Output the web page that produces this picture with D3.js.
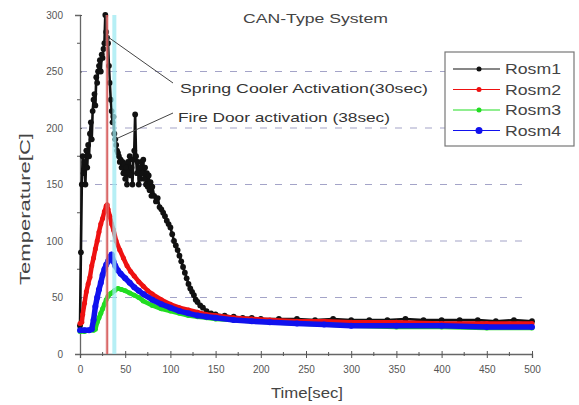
<!DOCTYPE html>
<html>
<head>
<meta charset="utf-8">
<script src="https://cdn.jsdelivr.net/npm/d3@7"></script>
<style>
  body { margin: 0; background: #fff; }
  svg { display: block; font-family: "Liberation Sans", Arial, sans-serif; }
  .tick text { fill: #555; font-size: 10px; }
</style>
</head>
<body>
<svg id="chart" width="579" height="405"></svg>
<script>
// datos (tiempo en seg, temperatura en C)
const rosm1T = [0,1,2,3,4,5,6,7,8,9,10,11,12,13,14,15,16,17,18,19,20,21,22,23,24,25,26,27,28,29,30,31,32,33,34,35,36,37,38,39,40,41,42,43,44,45,46,47,48,49,50,51,52,53,54,55,56,57,58,59,60,61,62,63,64,65,66,67,68,69,70,71,72,73,74,75,76,77,78,79,80,82,84,86,88,90,92,94,96,98,100,102,104,106,108,110,112,114,116,118,120,122,124,126,128,130,133,136,140,145,150,160,170,180,190,200,220,240,260,280,300,320,340,360,380,400,420,440,460,480,500];
const rosm1V = [25,90,150,175,160,170,150,180,165,185,175,195,205,190,215,225,230,220,245,240,250,255,260,250,265,262,270,275,300,285,280,275,255,240,225,215,205,210,195,190,185,180,178,175,170,172,165,170,160,168,155,165,150,170,160,175,158,165,150,172,180,212,175,160,170,150,165,155,170,160,172,155,165,150,160,148,158,145,152,140,148,140,135,138,130,128,125,122,118,115,112,106,100,96,92,87,82,77,72,67,62,58,55,52,48,46,43,41,38,36,35,34,33,32,32,31,31,31,30,31,30,30,30,31,30,30,30,30,29,30,29];

const rosm2T = [0,2,3,5,7,9,11,13,15,17,19,21,23,25,27,29,30,31,33,35,37,40,44,48,52,56,60,65,70,75,80,90,100,110,120,130,140,150,170,190,210,240,270,300,350,400,450,500];
const rosm2V = [27,28,35,45,55,62,68,78,85,93,100,108,115,120,126,131,132,128,122,115,110,100,92,85,78,73,69,64,60,56,53,48,44,41,39,37,35,34,32,31,30,29,29,28,28,27,27,27];

const rosm3T = [0,5,10,15,17,19,21,23,25,27,29,31,33,35,38,42,46,50,55,60,65,70,80,90,100,110,120,130,140,150,170,190,210,240,270,300,350,400,450,500];
const rosm3V = [20,20,21,21,22,28,32,36,40,44,48,51,53,54,56,58,57,56,54,52,50,47,43,40,38,36,34,33,32,31,30,29,28,27,26,25,24,24,23,23];

const rosm4T = [0,5,10,13,15,17,19,21,23,25,27,29,31,33,35,37,39,42,45,50,55,60,65,70,80,90,100,110,120,130,140,150,170,190,210,240,270,300,350,400,450,500];
const rosm4V = [21,21,21,22,30,42,50,57,63,70,75,79,82,86,88,82,78,74,71,67,63,59,56,53,48,44,41,38,36,34,33,32,30,29,28,27,26,25,25,25,24,24];

const seriesNames = ["Rosm1", "Rosm2", "Rosm3", "Rosm4"];
const seriesColors = ["#111111", "#ee1111", "#22dd22", "#1111ee"];

const xTicks = [0, 50, 100, 150, 200, 250, 300, 350, 400, 450, 500];
const yTicks = [0, 50, 100, 150, 200, 250, 300];
const gridValues = [50, 100, 150, 200, 250];

const sprinklerTime = 30;
const fireDoorTime = 38;

const svg = d3.select("#chart");
const margin = { top: 15, right: 47, bottom: 51, left: 80 };
const width = +svg.attr("width");
const height = +svg.attr("height");

const xScale = d3.scaleLinear()
  .domain([0, 500])
  .range([margin.left, width - margin.right]);

const yScale = d3.scaleLinear()
  .domain([0, 300])
  .range([height - margin.bottom, margin.top]);

// lineas de grilla punteadas
svg.append("g")
  .selectAll("line")
  .data(gridValues)
  .enter()
  .append("line")
  .attr("x1", xScale(0))
  .attr("x2", xScale(495))
  .attr("y1", d => yScale(d))
  .attr("y2", d => yScale(d))
  .attr("stroke", "#a4a4c8")
  .attr("stroke-width", 1.2)
  .attr("stroke-dasharray", "7,8");

// ejes
const xAxis = svg.append("g")
  .attr("transform", `translate(0, ${yScale(0)})`)
  .call(d3.axisBottom(xScale).tickValues(xTicks).tickSize(4).tickPadding(8));

const yAxis = svg.append("g")
  .attr("transform", `translate(${xScale(0)}, 0)`)
  .call(d3.axisLeft(yScale).tickValues(yTicks).tickSize(5).tickPadding(12));

// ticks menores
xAxis.selectAll(".minor")
  .data(d3.range(25, 500, 50))
  .enter()
  .append("line")
  .attr("x1", d => xScale(d))
  .attr("x2", d => xScale(d))
  .attr("y1", -2)
  .attr("y2", 2)
  .attr("stroke", "#555");

yAxis.selectAll(".minor")
  .data(d3.range(25, 300, 50))
  .enter()
  .append("line")
  .attr("y1", d => yScale(d))
  .attr("y2", d => yScale(d))
  .attr("x1", -3)
  .attr("x2", 0)
  .attr("stroke", "#555");

xAxis.selectAll(".tick line").attr("y1", -3).attr("stroke", "#555");
yAxis.selectAll(".tick line").attr("x2", 2).attr("stroke", "#555");
[xAxis, yAxis].forEach(a => {
  a.select(".domain").attr("stroke", "#666").attr("stroke-width", 1.3);
  a.selectAll(".tick text").attr("fill", "#555").style("font-size", "10px");
});

// series
const allSeries = [
  { name: seriesNames[0], t: rosm1T, v: rosm1V, color: seriesColors[0], w: 2.6, r: 2.9 },
  { name: seriesNames[1], t: rosm2T, v: rosm2V, color: seriesColors[1], w: 4.5, r: 2.5 },
  { name: seriesNames[2], t: rosm3T, v: rosm3V, color: seriesColors[2], w: 4.5, r: 2.5 },
  { name: seriesNames[3], t: rosm4T, v: rosm4V, color: seriesColors[3], w: 5.5, r: 3 }
];

const line = d3.line()
  .x(d => xScale(d[0]))
  .y(d => yScale(d[1]));

allSeries.forEach(s => {
  const pts = s.t.map((t, i) => [t, s.v[i]]);
  svg.append("path")
    .datum(pts)
    .attr("fill", "none")
    .attr("stroke", s.color)
    .attr("stroke-width", s.w)
    .attr("stroke-linejoin", "round")
    .attr("d", line);
  svg.append("g")
    .selectAll("circle")
    .data(pts)
    .enter()
    .append("circle")
    .attr("cx", d => xScale(d[0]))
    .attr("cy", d => yScale(d[1]))
    .attr("r", s.r)
    .attr("fill", s.color);
});

// lineas verticales de activacion
svg.append("line")
  .attr("x1", xScale(sprinklerTime)).attr("x2", xScale(sprinklerTime))
  .attr("y1", yScale(0)).attr("y2", yScale(300))
  .attr("stroke", "#e8a0a0").attr("stroke-width", 3).attr("opacity", 0.7);
svg.append("line")
  .attr("x1", xScale(sprinklerTime)).attr("x2", xScale(sprinklerTime))
  .attr("y1", yScale(0)).attr("y2", yScale(300))
  .attr("stroke", "#cc3333").attr("stroke-width", 1);
svg.append("line")
  .attr("x1", xScale(fireDoorTime)).attr("x2", xScale(fireDoorTime))
  .attr("y1", yScale(0)).attr("y2", yScale(300))
  .attr("stroke", "#9eeaf2").attr("stroke-width", 4).attr("opacity", 0.75);

// anotaciones
svg.append("line")
  .attr("x1", 108).attr("y1", 37).attr("x2", 173).attr("y2", 83)
  .attr("stroke", "#444").attr("stroke-width", 1);
svg.append("line")
  .attr("x1", 118).attr("y1", 138).attr("x2", 173).attr("y2", 113)
  .attr("stroke", "#444").attr("stroke-width", 1);

svg.append("text")
  .attr("x", 180).attr("y", 93)
  .attr("textLength", 248).attr("lengthAdjust", "spacingAndGlyphs")
  .attr("fill", "#333").style("font-size", "13px")
  .text("Spring Cooler Activation(30sec)");

svg.append("text")
  .attr("x", 178).attr("y", 122)
  .attr("textLength", 212).attr("lengthAdjust", "spacingAndGlyphs")
  .attr("fill", "#333").style("font-size", "13px")
  .text("Fire Door activation (38sec)");

// titulo
svg.append("text")
  .attr("x", 243).attr("y", 23)
  .attr("textLength", 145).attr("lengthAdjust", "spacingAndGlyphs")
  .attr("fill", "#444").style("font-size", "13px")
  .text("CAN-Type System");

// etiquetas de ejes
svg.append("text")
  .attr("x", 271).attr("y", 398)
  .attr("textLength", 72).attr("lengthAdjust", "spacingAndGlyphs")
  .attr("fill", "#444").style("font-size", "14px")
  .text("Time[sec]");

svg.append("text")
  .attr("transform", "translate(30, 285) rotate(-90)")
  .attr("textLength", 152).attr("lengthAdjust", "spacingAndGlyphs")
  .attr("fill", "#444").style("font-size", "14px")
  .text("Temperature[C]");

// leyenda
const legend = svg.append("g").attr("transform", "translate(445, 52)");
legend.append("rect")
  .attr("width", 129).attr("height", 94)
  .attr("fill", "#fff").attr("stroke", "#777").attr("stroke-width", 1.2);

allSeries.forEach((s, i) => {
  const yy = 17 + i * 20.5;
  legend.append("line")
    .attr("x1", 8).attr("x2", 55).attr("y1", yy).attr("y2", yy)
    .attr("stroke", s.color).attr("stroke-width", 1.2);
  legend.append("circle")
    .attr("cx", 34).attr("cy", yy).attr("r", i === 3 ? 3.5 : 2.5)
    .attr("fill", s.color);
  legend.append("text")
    .attr("x", 60).attr("y", yy + 5)
    .attr("textLength", 56).attr("lengthAdjust", "spacingAndGlyphs")
    .attr("fill", "#444").style("font-size", "14px")
    .text(s.name);
});
</script>
</body>
</html>
